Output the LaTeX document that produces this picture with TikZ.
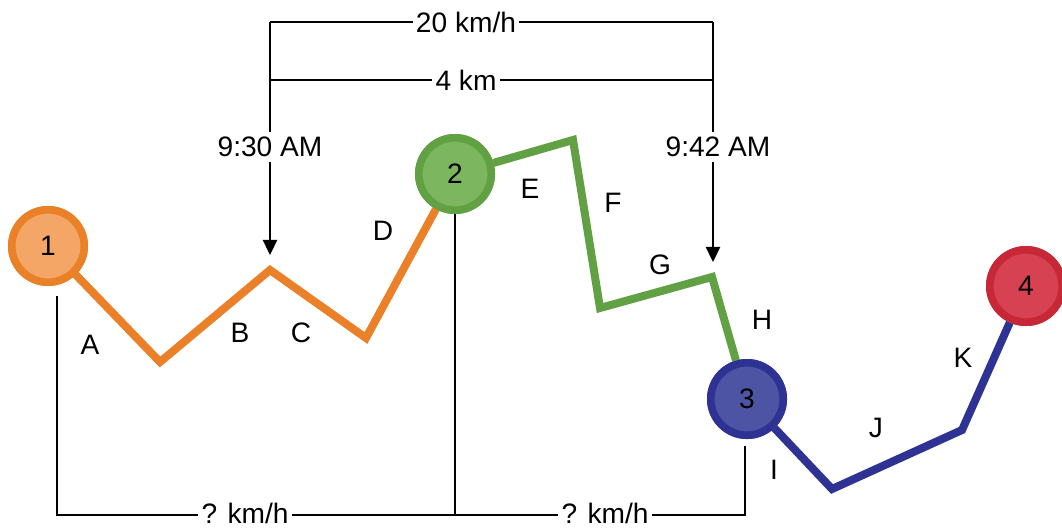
\documentclass[tikz,border=0pt]{standalone}
\usepackage{fontspec}
\setmainfont{Liberation Sans}
\usetikzlibrary{arrows.meta}
\definecolor{orangeline}{RGB}{234,128,40}
\definecolor{orangefill}{RGB}{243,166,102}
\definecolor{greenline}{RGB}{98,160,68}
\definecolor{greenfill}{RGB}{124,182,94}
\definecolor{blueline}{RGB}{46,50,146}
\definecolor{bluefill}{RGB}{78,84,164}
\definecolor{redline}{RGB}{198,40,56}
\definecolor{redfill}{RGB}{214,66,82}

\tikzset{
  stop/.style={circle, draw=#1line, fill=#1fill, line width=0.19cm,
    minimum size=1.81cm, inner sep=0pt},
  route/.style={line width=0.2cm, line join=miter, #1line},
  guide/.style={line width=1pt},
  tag/.style={fill=white, inner sep=2pt}
}

\begin{document}
\begin{tikzpicture}[x=0.025cm, y=-0.025cm, font=\fontsize{20}{24}\selectfont]
    \useasboundingbox (0,0) rectangle (1062,527);

    % bends of the route
    \coordinate (o1) at (160,362);
    \coordinate (o2) at (270,270);
    \coordinate (o3) at (366,338);
    \coordinate (g1) at (573,140);
    \coordinate (g2) at (600,308);
    \coordinate (g3) at (712,277);
    \coordinate (u1) at (832,489);
    \coordinate (u2) at (962,430);

    \node[stop=orange] (n1) at (48,246) {};
    \node[stop=green]  (n2) at (455,174) {};
    \node[stop=blue]   (n3) at (747,399) {};
    \node[stop=red]    (n4) at (1026,286) {};

    \draw[route=orange] (n1) -- (o1) -- (o2) -- (o3) -- (n2);
    \draw[route=green]  (n2) -- (g1) -- (g2) -- (g3) -- (n3);
    \draw[route=blue]   (n3) -- (u1) -- (u2) -- (n4);

    \node[stop=orange] at (n1) {1};
    \node[stop=green]  at (n2) {2};
    \node[stop=blue]   at (n3) {3};
    \node[stop=red]    at (n4) {4};

    \node (lA) at (90,345) {A};
    \node (lB) at (240,333) {B};
    \node (lC) at (301,333) {C};
    \node (lD) at (383,231) {D};
    \node (lE) at (530,189) {E};
    \node (lF) at (613,203) {F};
    \node (lG) at (660,265) {G};
    \node (lH) at (762,320) {H};
    \node (lI) at (774,470) {I};
    \node (lJ) at (876,428) {J};
    \node (lK) at (963,358) {K};

    % top brackets
    \coordinate (c1) at (270,22);
    \coordinate (c2) at (713,22);
    \coordinate (d1) at (270,80);
    \coordinate (d2) at (713,80);
    \node[tag] (speed) at (466,22) {20 km/h};
    \node[tag] (dist)  at (466,80) {4 km};
    \node (t1) at (270,147) {9:30 AM};
    \node (t2) at (718,147) {9:42 AM};
    \coordinate (a1) at (270,255);
    \coordinate (a2) at (713,262);
    \begin{scope}[guide]
    \draw (c1) -- (speed) -- (c2);
    \draw (d1) -- (dist) -- (d2);
    \draw (c1) -- (t1.north -| c1);
    \draw (c2) -- (t2.north -| c2);
    \draw[-{Triangle[length=0.38cm,width=0.36cm]}] (t1.south -| c1) -- (a1);
    \draw[-{Triangle[length=0.38cm,width=0.36cm]}] (t2.south -| c2) -- (a2);
    \end{scope}

    % bottom brackets
    \coordinate (b1) at (57,296);
    \coordinate (bl) at (57,515);
    \coordinate (bm) at (455,515);
    \coordinate (br) at (745,515);
    \coordinate (b3) at (745,446);
    \node[tag] (q1) at (245,513) {? km/h};
    \node[tag] (q2) at (605,513) {? km/h};
    \begin{scope}[guide]
    \draw (b1) -- (bl) -- (q1.west |- bl);
    \draw (q1.east |- bl) -- (bm) -- (q2.west |- bm);
    \draw (q2.east |- br) -- (br) -- (b3);
    \draw[line width=2pt] (n2.south) -- (bm);
    \end{scope}
\end{tikzpicture}
\end{document}
